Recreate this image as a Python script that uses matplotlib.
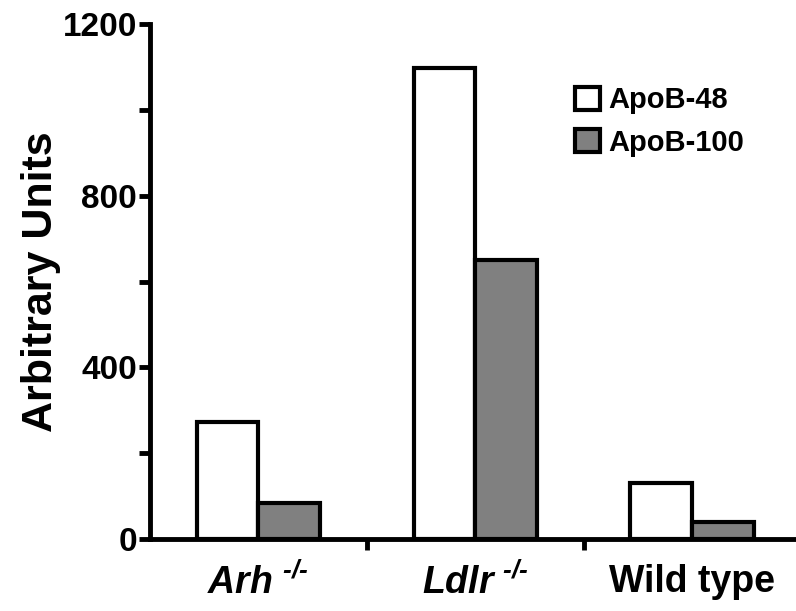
"""ApoB-48 / ApoB-100 bar chart."""

import matplotlib

matplotlib.use("Agg")

import matplotlib.pyplot as plt
import numpy as np
from matplotlib.ticker import FixedLocator

plt.rcParams["font.family"] = "Liberation Sans"
plt.rcParams["font.weight"] = "bold"
plt.rcParams["mathtext.fontset"] = "custom"
plt.rcParams["mathtext.rm"] = "Liberation Sans:italic:bold"
plt.rcParams["mathtext.it"] = "Liberation Sans:italic:bold"

groups = [r"$Arh^{\ \text{-/-}}$", r"$Ldlr^{\ \text{-/-}}$", "Wild type"]
apob48 = [272, 1098, 130]
apob100 = [84, 649, 40]
series_names = ["ApoB-48", "ApoB-100"]
y_ticks = [0, 400, 800, 1200]

fig = plt.figure(figsize=(7.96, 6.11), dpi=100)
ax = fig.add_axes([0.1884, 0.1178, 0.8116, 0.8429])

x = np.arange(len(groups))
w = 0.284
lw = 3.0
ax.bar(x - w / 2, apob48, w, color="white", edgecolor="black", linewidth=lw,
       label=series_names[0])
ax.bar(x + w / 2, apob100, w, color="#808080", edgecolor="black", linewidth=lw,
       label=series_names[1])

ax.set_xlim(-0.5, 2.48)
ax.set_ylim(0, 1200)
ax.set_yticks(y_ticks)
ax.set_yticklabels([str(v) for v in y_ticks], fontsize=24, fontweight="bold")
ax.yaxis.set_minor_locator(FixedLocator([200, 600, 1000]))
ax.set_xticks(x)
ax.set_xticklabels(groups, fontsize=27, fontweight="bold")
ax.xaxis.set_minor_locator(FixedLocator([0.5, 1.5]))
ax.tick_params(axis="x", which="major", length=0, pad=18)
ax.tick_params(axis="x", which="minor", length=8, width=3.5, direction="out")
ax.tick_params(axis="y", which="both", length=8, width=3.5, direction="out", pad=1.5)

for side in ("top", "right"):
    ax.spines[side].set_visible(False)
for side in ("left", "bottom"):
    ax.spines[side].set_linewidth(3.5)

ax.set_ylabel("Arbitrary Units", fontsize=31, fontweight="bold", labelpad=1)

ax.legend(loc="upper left", bbox_to_anchor=(0.617, 0.93), frameon=False,
          prop={"size": 21, "weight": "bold"}, handlelength=0.85,
          handleheight=0.85, handletextpad=0.3, labelspacing=0.5)

fig.savefig("out.png", dpi=100)
plt.close(fig)
